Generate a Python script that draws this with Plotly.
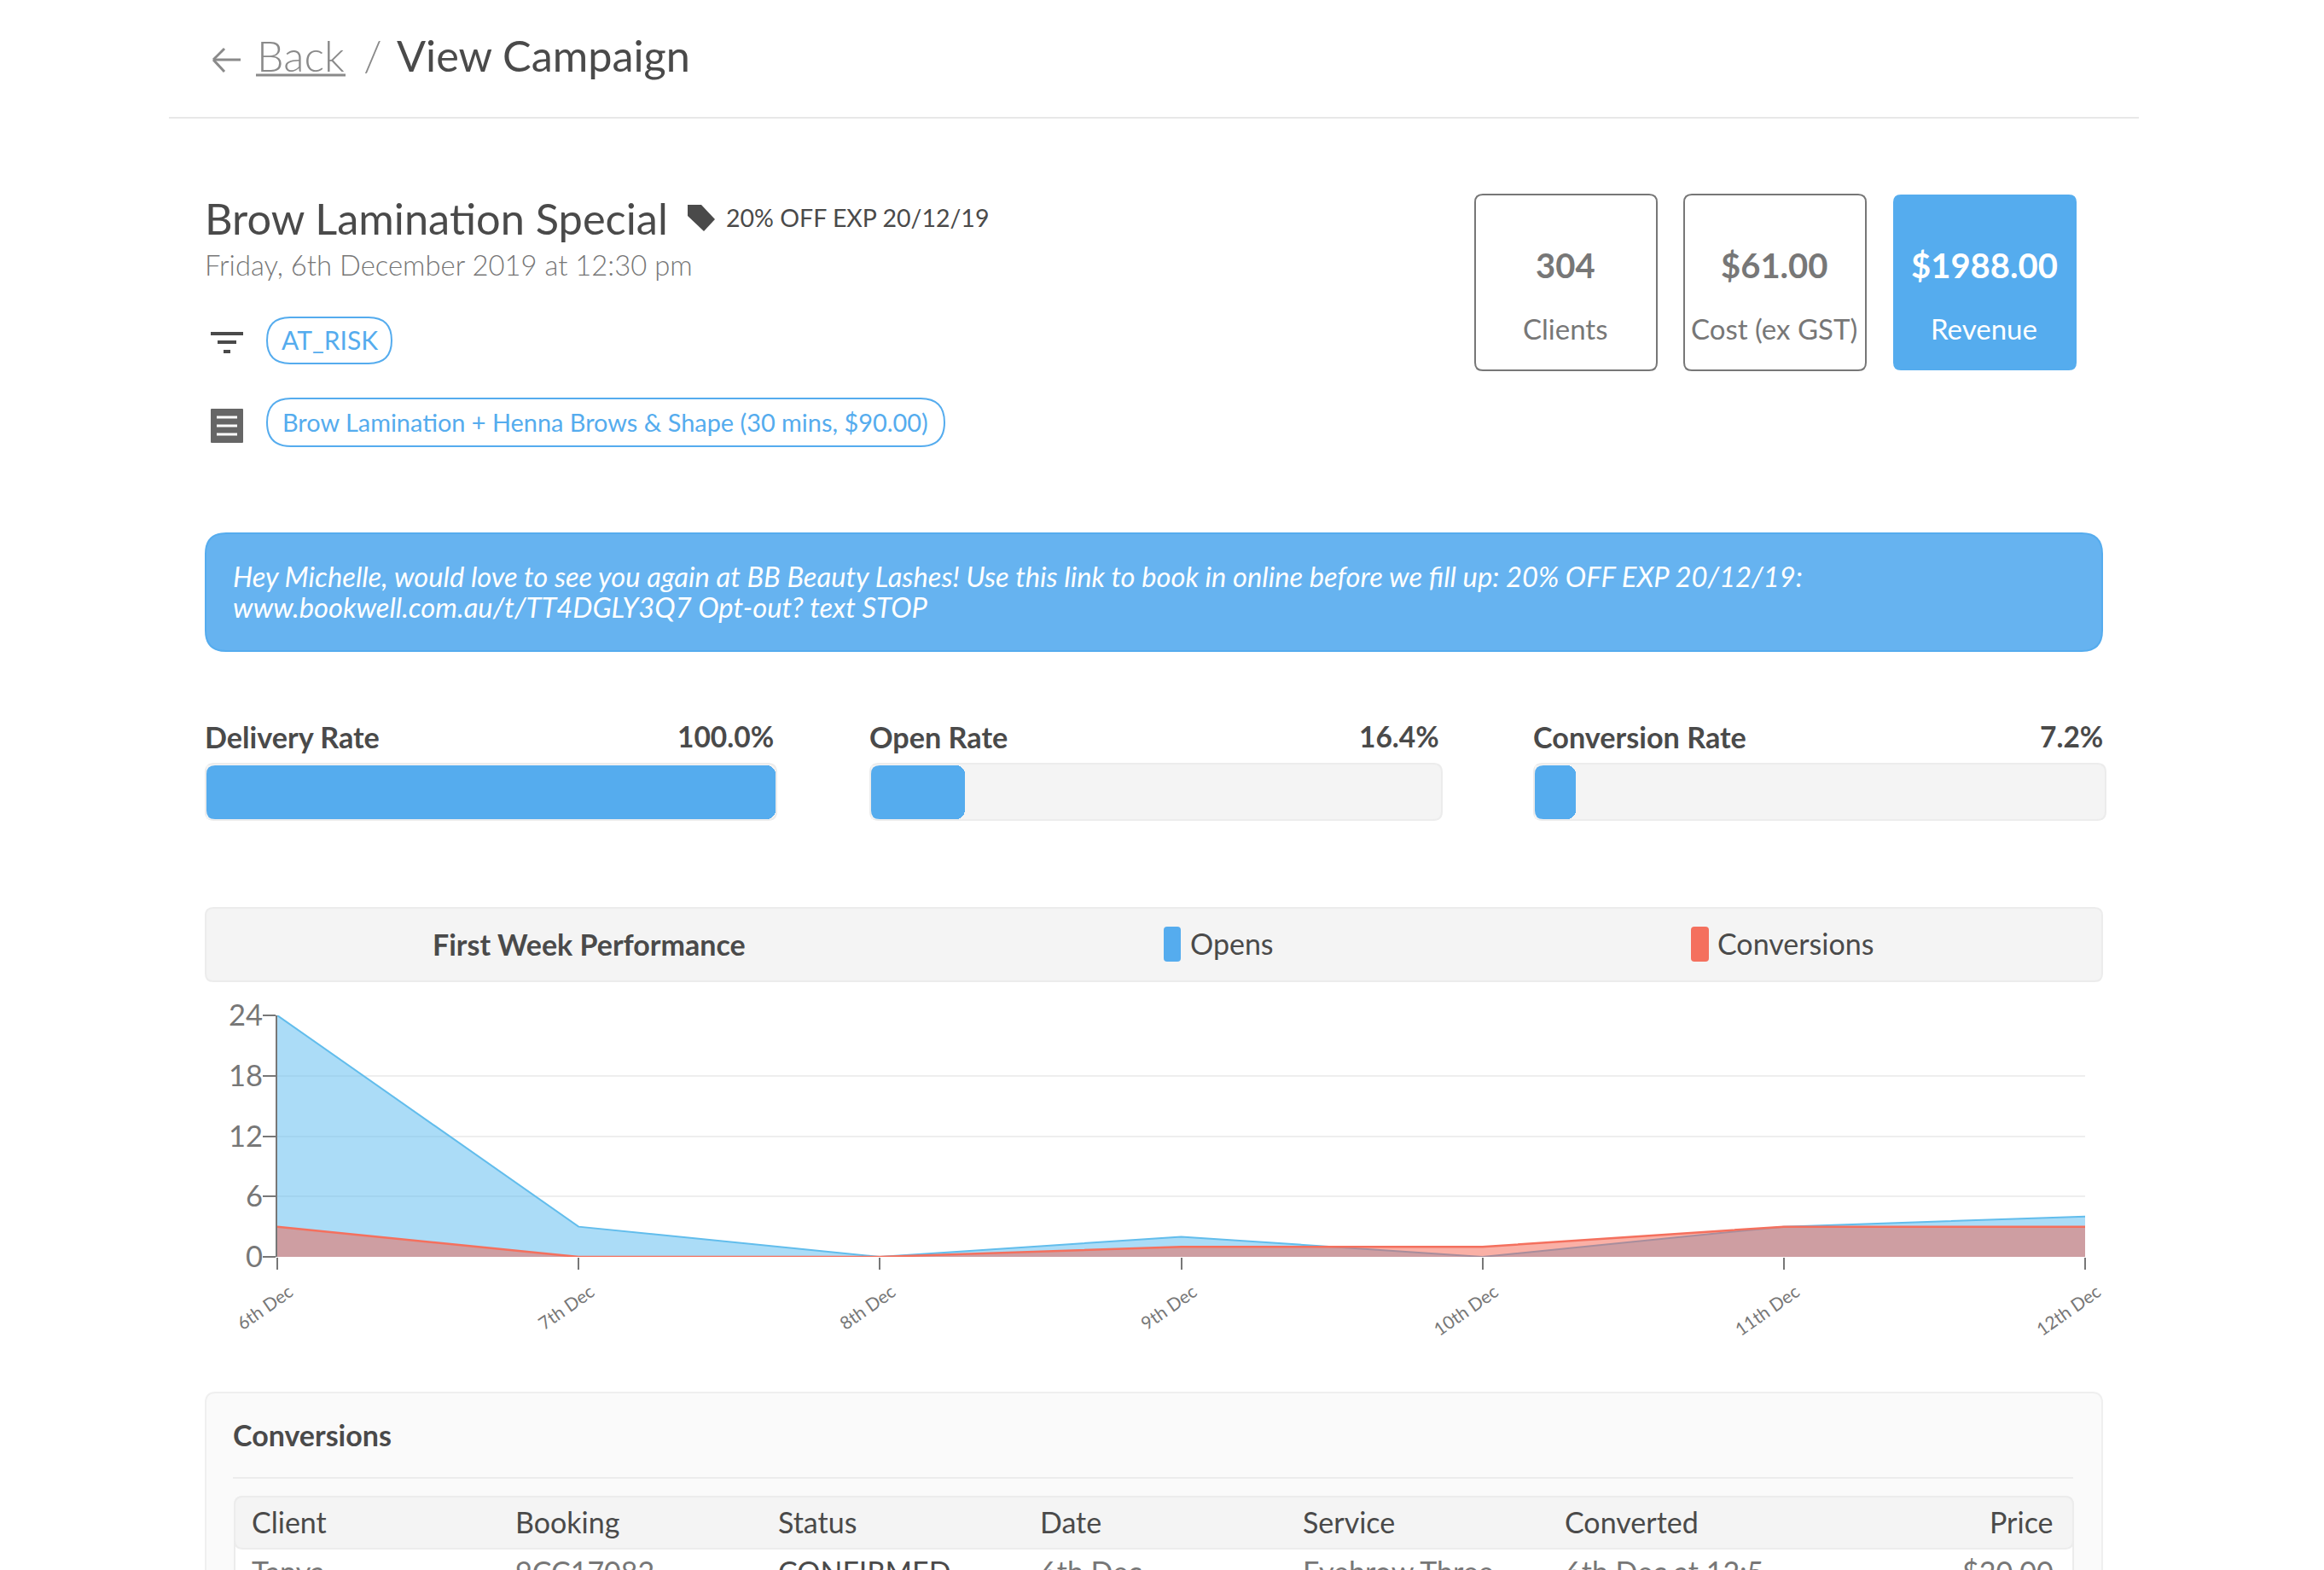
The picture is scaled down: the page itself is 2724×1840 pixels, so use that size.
# -*- coding: utf-8 -*-
import plotly.graph_objects as go

W, H = 2724, 1840

# === data ===
days = ["6th Dec", "7th Dec", "8th Dec", "9th Dec", "10th Dec", "11th Dec", "12th Dec"]
opens = [24, 3, 0, 2, 0, 3, 4]
conversions = [3, 0, 0, 1, 1, 3, 3]
y_ticks = [0, 6, 12, 18, 24]

rate_names = ["Delivery Rate", "Open Rate", "Conversion Rate"]
rate_values = [100.0, 16.4, 7.2]

stat_values = ["304", "$61.00", "$1988.00"]
stat_labels = ["Clients", "Cost (ex GST)", "Revenue"]

table_head = ["Client", "Booking", "Status", "Date", "Service", "Converted", "Price"]
table_row = ["Tanya", "9CC17082", "CONFIRMED", "6th Dec", "Eyebrow Three", "6th Dec at 12:5", "$20.00"]

BLUE = "#55acee"
RED = "#f4705e"
DARK = "#4a4a4a"
GREY = "#777777"
FONT = "Lato"


def px(x):
    return x / W


def py(y):
    return 1 - y / H


fig = go.Figure()
shapes = []
notes = []


def text(x, y, s, size, color=DARK, anchor="left", weight=400, style="normal"):
    notes.append(dict(
        x=px(x), y=py(y), xref="paper", yref="paper", text=s, showarrow=False,
        xanchor=anchor, yanchor="middle", align=anchor, borderpad=0, borderwidth=0,
        font=dict(family=FONT, size=size, color=color, weight=weight, style=style),
    ))


def rbox(x0, y0, x1, y1, r, fill="rgba(0,0,0,0)", line=None, lw=2, layer="below"):
    # rounded rectangle, pixel coordinates turned into paper ones
    X0, X1, Y0, Y1 = px(x0), px(x1), py(y0), py(y1)
    rx, ry = r / W, r / H
    path = (f"M {X0+rx} {Y0} L {X1-rx} {Y0} Q {X1} {Y0} {X1} {Y0-ry} L {X1} {Y1+ry} "
            f"Q {X1} {Y1} {X1-rx} {Y1} L {X0+rx} {Y1} Q {X0} {Y1} {X0} {Y1+ry} "
            f"L {X0} {Y0-ry} Q {X0} {Y0} {X0+rx} {Y0} Z")
    shapes.append(dict(type="path", path=path, xref="paper", yref="paper", fillcolor=fill,
                       line=dict(color=line or "rgba(0,0,0,0)", width=lw if line else 0), layer=layer))


def seg(x0, y0, x1, y1, color, lw):
    shapes.append(dict(type="line", x0=px(x0), y0=py(y0), x1=px(x1), y1=py(y1), xref="paper", yref="paper",
                       line=dict(color=color, width=lw), layer="below"))


def corner(x, y, dy, color):
    # hides the square left corners of a bar
    r = 10
    shapes.append(dict(type="path", xref="paper", yref="paper", fillcolor=color, line=dict(width=0), layer="above",
                       path=f"M {px(x)} {py(y)} L {px(x+r)} {py(y)} Q {px(x)} {py(y)} {px(x)} {py(y+dy*r)} Z"))


# === header ===
seg(250, 70, 282, 70, "#8a8a8a", 3)
seg(250, 70, 263, 57, "#8a8a8a", 3)
seg(250, 70, 263, 84, "#8a8a8a", 3)
text(301, 65, "Back", 50, "#8a8a8a", weight=300)
seg(300, 88, 405, 88, "#8a8a8a", 3)
text(426, 65, "/", 50, "#8a8a8a", weight=300)
text(465, 65, "View Campaign", 50.4, DARK)
seg(198, 138, 2507, 138, "#e8e8e8", 2)

# === campaign info ===
text(240, 256, "Brow Lamination Special", 50.5, DARK)
shapes.append(dict(type="path", xref="paper", yref="paper", fillcolor=DARK, line=dict(width=0), layer="below",
                   path=f"M {px(806)} {py(240)} L {px(822)} {py(240)} L {px(838)} {py(257)} L {px(825)} {py(271)} "
                        f"L {px(806)} {py(253)} Z"))
text(851, 255, "20% OFF EXP 20/12/19", 28.5, DARK)
text(240, 311, "Friday, 6th December 2019 at 12:30 pm", 32.8, GREY, weight=300)

seg(247, 391, 285, 391, DARK, 4)
seg(255, 401, 277, 401, DARK, 4)
seg(262, 412, 270, 412, DARK, 4)
rbox(313, 372, 459, 426, 27, fill="white", line=BLUE, lw=2)
text(386, 398, "AT_RISK", 30, BLUE, anchor="center")

rbox(247, 479, 285, 519, 1, fill="#666666")
for yy in (489, 499, 509):
    seg(254, yy, 278, yy, "white", 3)
rbox(313, 467, 1107, 523, 28, fill="white", line=BLUE, lw=2)
text(709, 494, "Brow Lamination + Henna Brows & Shape (30 mins, $90.00)", 28.9, BLUE, anchor="center")

# === stat cards ===
card_x = [(1729, 1942), (1974, 2187), (2219, 2434)]
for i, (x0, x1) in enumerate(card_x):
    c = "white" if i == 2 else GREY
    rbox(x0, 228, x1, 434, 9, fill=BLUE if i == 2 else "white", line=None if i == 2 else GREY, lw=2)
    text((x0 + x1) / 2 - 1, 311, stat_values[i], 40, c, anchor="center", weight=700)
    text((x0 + x1) / 2 - 1, 385, stat_labels[i], 33, c, anchor="center")

# === message ===
rbox(241, 625, 2464, 763, 24, fill="#66b3f0", line=BLUE, lw=2)
text(273, 675, "Hey Michelle, would love to see you again at BB Beauty Lashes! Use this link to book in online "
               "before we fill up: 20% OFF EXP 20/12/19:", 32.7, "white", style="italic")
text(273, 711, "www.bookwell.com.au/t/TT4DGLY3Q7 Opt-out? text STOP", 32.7, "white", style="italic")

# === rate bars ===
rate_x = [(241, 910), (1020, 1690), (1798, 2468)]
for i, (x0, x1) in enumerate(rate_x):
    rbox(x0, 895, x1, 961, 10, fill="#f4f4f4", line="#ececec", lw=2)
    text(x0 - 1, 863, rate_names[i], 34.2, DARK, weight=700)
    text(x1 - 3, 863, f"{rate_values[i]:.1f}%", 33.5, DARK, anchor="right", weight=700)
    ax = str(i + 2)
    fig.add_trace(go.Bar(x=[rate_values[i]], y=[rate_names[i]], orientation="h", marker=dict(color=BLUE, line=dict(width=0)),
                         xaxis="x" + ax, yaxis="y" + ax, showlegend=False, hoverinfo="x"))
    fig.layout["xaxis" + ax] = dict(domain=[px(x0 + 1), px(x1 - 1)], range=[0, 100], visible=False, anchor="y" + ax,
                                    automargin=False)
    fig.layout["yaxis" + ax] = dict(domain=[py(960), py(897)], visible=False, anchor="x" + ax, automargin=False)
    corner(x0 + 1, 897, 1, "#f4f4f4")
    corner(x0 + 1, 960, -1, "#f4f4f4")

# === chart strip ===
rbox(241, 1064, 2464, 1150, 9, fill="#f4f4f4", line="#ececec", lw=2)
text(691, 1106, "First Week Performance", 34, DARK, anchor="center", weight=700)
rbox(1364, 1086, 1384, 1127, 4, fill=BLUE)
text(1395, 1105, "Opens", 34, DARK)
rbox(1982, 1086, 2003, 1127, 4, fill=RED)
text(2013, 1105, "Conversions", 34, DARK)

# === area chart ===
fig.add_trace(go.Scatter(x=days, y=opens, mode="lines", fill="tozeroy", name="Opens",
                         line=dict(color="#62bdec", width=2), fillcolor="rgba(87,185,240,0.5)", showlegend=False))
fig.add_trace(go.Scatter(x=days, y=conversions, mode="lines", fill="tozeroy", name="Conversions",
                         line=dict(color=RED, width=2.5), fillcolor="rgba(245,90,70,0.48)", showlegend=False))

# === conversions table ===
rbox(241, 1632, 2464, 1900, 12, fill="#fafafa", line="#efefef", lw=2)
text(273, 1681, "Conversions", 34, DARK, weight=700)
seg(273, 1732, 2430, 1732, "#ececec", 2)
rbox(275, 1754, 2430, 1900, 10, fill="white", line="#ececec", lw=2)
rbox(275, 1754, 2430, 1815, 10, fill="#f4f4f4", line="#ececec", lw=2)
col_x = [295, 604, 912, 1219, 1527, 1834, 2407]
for i, x in enumerate(col_x):
    anchor = "right" if i == 6 else "left"
    text(x, 1783, table_head[i], 34, DARK, anchor=anchor)
    text(x, 1841, table_row[i], 34, DARK if i == 2 else GREY, anchor=anchor)

fig.update_layout(
    template=None,
    width=W, height=H, margin=dict(l=0, r=0, t=0, b=0, autoexpand=False),
    paper_bgcolor="white", plot_bgcolor="rgba(0,0,0,0)",
    barcornerradius=10, bargap=0, showlegend=False,
    shapes=shapes, annotations=notes,
    font=dict(family=FONT, color=GREY),
    xaxis=dict(domain=[px(325), px(2444)], range=[0, 6], type="category", categoryorder="array", categoryarray=days,
               automargin=False, showgrid=False, zeroline=False, showline=False,
               ticks="outside", ticklen=14, tickwidth=1.5, tickcolor=GREY,
               tickangle=-35, tickfont=dict(family=FONT, size=21, color=GREY), ticklabelshift=14, ticklabelstandoff=6,
               anchor="y"),
    yaxis=dict(domain=[py(1473), py(1190)], range=[0, 24], tickvals=y_ticks, automargin=False,
               showgrid=True, gridcolor="#eeeeee", gridwidth=2, zeroline=False,
               showline=True, linecolor=GREY, linewidth=2,
               ticks="outside", ticklen=15, tickwidth=1.5, tickcolor=GREY, ticklabelstandoff=-7,
               tickfont=dict(family=FONT, size=34.5, color=GREY), anchor="x"),
)

fig.write_html("out.html", config={"displayModeBar": False}, post_script="document.body.style.margin='0';")
